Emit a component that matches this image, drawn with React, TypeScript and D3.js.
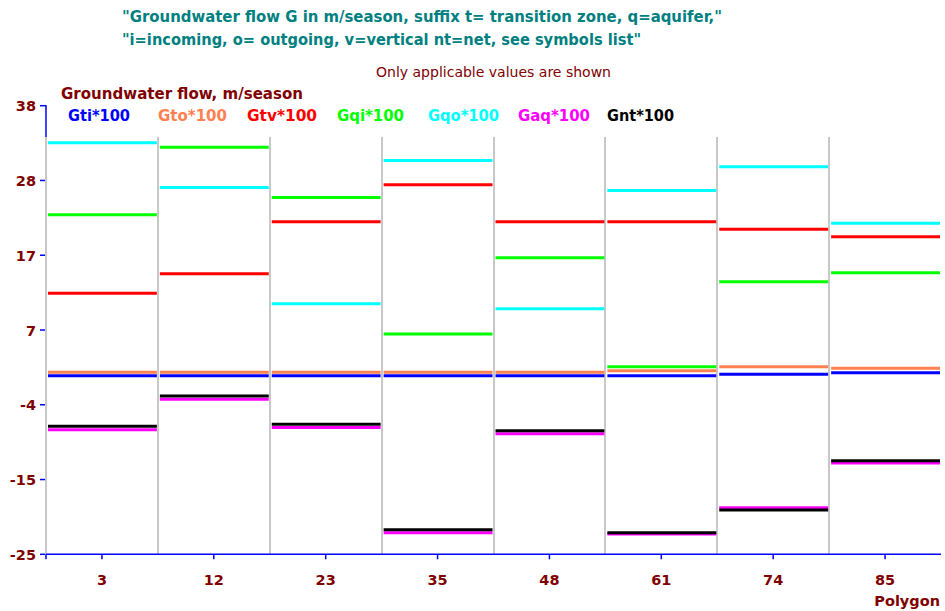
import React from "react";
import * as d3 from "d3";

const polygons = ["3", "12", "23", "35", "48", "61", "74", "85"];
const Gti = [0.08, 0.08, 0.08, 0.08, 0.08, 0.08, 0.27, 0.5];
const Gto = [0.55, 0.55, 0.55, 0.55, 0.55, 0.78, 1.34, 1.12];
const Gtv = [11.65, 14.4, 21.7, 26.9, 21.7, 21.7, 20.64, 19.6];
const Gqi = [22.7, 32.15, 25.1, 5.93, 16.65, 1.34, 13.28, 14.55];
const Gqo = [32.8, 26.5, 10.2, 30.3, 9.49, 26.1, 29.43, 21.48];
const Gaq = [-7.5, -3.24, -7.2, -21.97, -8.07, -22.15, -18.46, -12.18];
const Gnt = [-7.03, -2.77, -6.75, -21.55, -7.65, -21.97, -18.78, -11.86];

const seriesNames = ["Gti*100", "Gto*100", "Gtv*100", "Gqi*100", "Gqo*100", "Gaq*100", "Gnt*100"];
const seriesValues = [Gti, Gto, Gtv, Gqi, Gqo, Gaq, Gnt];
const seriesColors = ["#0000FF", "#FF8050", "#FF0000", "#00FF00", "#00FFFF", "#FF00FF", "#000000"];

const yMin = -25;
const yMax = 38;
const yTickLabels = ["-25", "-15", "-4", "7", "17", "28", "38"];

const titleLines = [
  "\"Groundwater flow G in m/season, suffix t= transition zone, q=aquifer,\"",
  "\"i=incoming, o= outgoing, v=vertical nt=net, see symbols list\"",
];

const FONT = "'DejaVu Sans', Verdana, sans-serif";
const NARROW = "'Liberation Sans Narrow', 'DejaVu Sans Condensed', 'Liberation Sans', sans-serif";
const DARKRED = "#800000";
const AXIS = "#0000FF";

export default function App() {
  const left = 46;
  const right = 941;
  const top = 105.7;
  const bottom = 554.3;
  const x = d3.scaleBand<string>().domain(polygons).range([left, right]).paddingInner(0).paddingOuter(0);
  const y = d3.scaleLinear().domain([yMin, yMax]).range([bottom, top]);
  const bw = x.bandwidth();
  const tickVals = d3.range(yTickLabels.length).map((i) => yMin + (i * (yMax - yMin)) / (yTickLabels.length - 1));

  const legendX = [68, 158, 247, 337, 428, 518, 607];
  const legendW = [62, 69, 70, 67, 71, 72, 67];

  return (
    <svg width={945} height={611} style={{ position: "absolute", left: 0, top: 0, background: "#fff" }}>
      <rect x={0} y={0} width={945} height={611} fill="#fff" />
      {/* Titles */}
      <text x={122} y={22} fill="#008080" fontFamily={NARROW} fontWeight="bold" fontSize={15} textLength={600} lengthAdjust="spacingAndGlyphs">
        {titleLines[0]}
      </text>
      <text x={122} y={45} fill="#008080" fontFamily={NARROW} fontWeight="bold" fontSize={15} textLength={519} lengthAdjust="spacingAndGlyphs">
        {titleLines[1]}
      </text>
      <text x={376} y={77} fill={DARKRED} fontFamily={NARROW} fontSize={14} textLength={235} lengthAdjust="spacingAndGlyphs">
        Only applicable values are shown
      </text>
      <text x={61} y={99} fill={DARKRED} fontFamily={NARROW} fontWeight="bold" fontSize={15} textLength={242} lengthAdjust="spacingAndGlyphs">
        Groundwater flow, m/season
      </text>
      {/* Legend */}
      {seriesNames.map((n, i) => (
        <text key={n} x={legendX[i]} y={121} fill={seriesColors[i]} fontFamily={NARROW} fontWeight="bold" fontSize={15} textLength={legendW[i]} lengthAdjust="spacingAndGlyphs">
          {n}
        </text>
      ))}
      {/* Y axis */}
      <line x1={46} x2={46} y1={top} y2={bottom} stroke={AXIS} strokeWidth={1.5} />
      {tickVals.map((v, i) => (
        <g key={i}>
          <line x1={40} x2={i === tickVals.length - 1 ? 46.5 : 45} y1={y(v)} y2={y(v)} stroke={AXIS} strokeWidth={1.5} />
          <text x={36} y={y(v) + 5.5} textAnchor="end" fill={DARKRED} fontFamily={FONT} fontWeight="bold" fontSize={14.5}>
            {yTickLabels[i]}
          </text>
        </g>
      ))}
      {/* Separators */}
      {polygons.map((p) => (
        <line key={p} x1={Math.round(x(p)!)} x2={Math.round(x(p)!)} y1={137} y2={bottom} stroke="#C8C8C8" strokeWidth={2} />
      ))}
      {/* X axis */}
      <line x1={left} x2={right} y1={bottom} y2={bottom} stroke={AXIS} strokeWidth={1.5} />
      <line x1={left} x2={left} y1={bottom} y2={bottom + 5} stroke={AXIS} strokeWidth={1.5} />
      {polygons.map((p) => (
        <g key={p}>
          <line x1={x(p)! + bw / 2} x2={x(p)! + bw / 2} y1={bottom} y2={bottom + 5} stroke={AXIS} strokeWidth={1.5} />
          <text x={x(p)! + bw / 2} y={585} textAnchor="middle" fill={DARKRED} fontFamily={FONT} fontWeight="bold" fontSize={14.5}>
            {p}
          </text>
        </g>
      ))}
      <text x={940} y={606} textAnchor="end" fill={DARKRED} fontFamily={FONT} fontWeight="bold" fontSize={14.5}>
        Polygon
      </text>
      {/* Data lines */}
      {seriesValues.map((vals, si) =>
        vals.map((v, j) => {
          const x0 = x(polygons[j])! + 2;
          const x1 = x(polygons[j])! + bw - 1;
          return <line key={si + "-" + j} x1={x0} x2={x1} y1={y(v)} y2={y(v)} stroke={seriesColors[si]} strokeWidth={3} />;
        })
      )}
    </svg>
  );
}
